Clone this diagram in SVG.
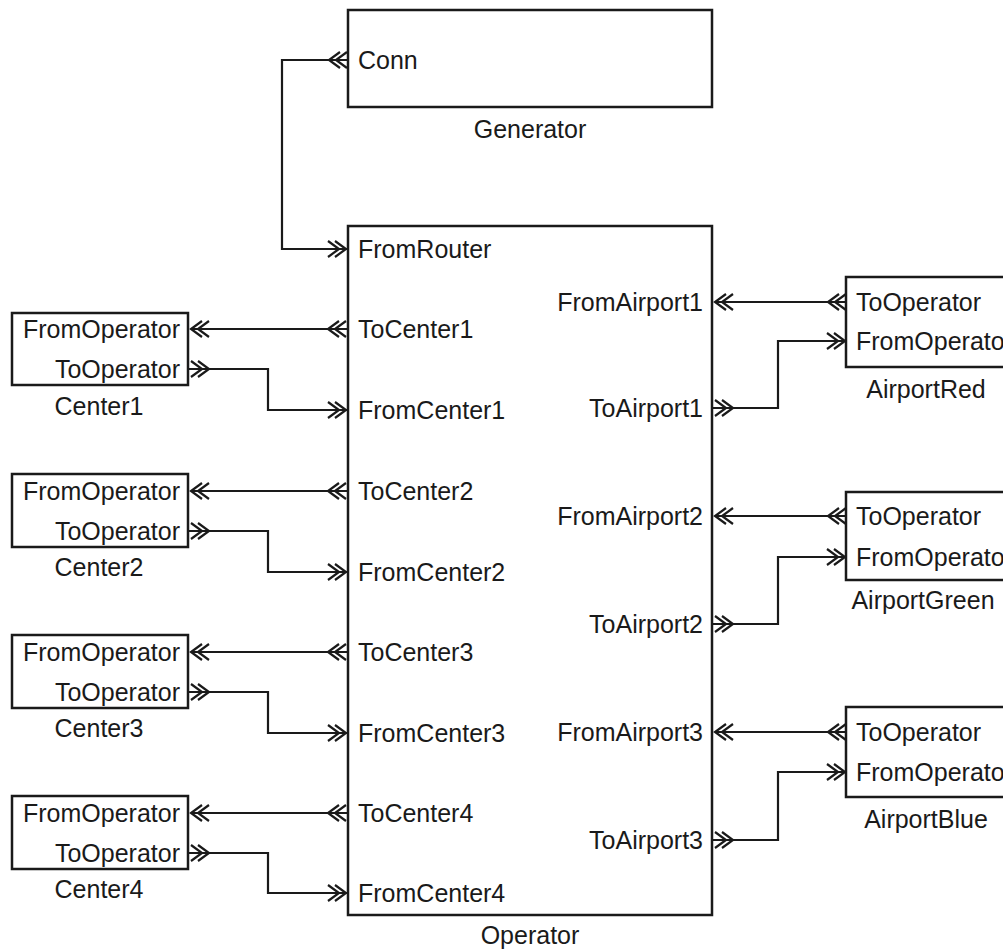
<svg xmlns="http://www.w3.org/2000/svg" width="1003" height="951" viewBox="0 0 1003 951">
  <style>
    .box { fill: #ffffff; stroke: #1a1a1a; stroke-width: 2.5; }
    .wire { fill: none; stroke: #1a1a1a; stroke-width: 2.2; }
    .chev { fill: none; stroke: #1a1a1a; stroke-width: 2.2; }
    text { font-family: "Liberation Sans", Arial, sans-serif; font-size: 25px; fill: #1a1a1a; }
    .end { text-anchor: end; }
    .mid { text-anchor: middle; }
  </style>
  <defs>
    <!-- double chevron pointing left, tip at origin -->
    <path id="dl" class="chev" d="M11,-8 L0,0 L11,8 M18,-8 L7,0 L18,8"/>
    <!-- double chevron pointing right, tip at origin -->
    <path id="dr" class="chev" d="M-11,-8 L0,0 L-11,8 M-18,-8 L-7,0 L-18,8"/>
  </defs>
  <rect width="1003" height="951" fill="#ffffff"/>

  <!-- connectors -->
  <g id="connectors">
    <path class="wire" d="M348,60 H282 V249 H347"/>
    <path class="wire" d="M191,329 H348"/>
    <path class="wire" d="M188,369 H268 V410 H347"/>
    <path class="wire" d="M191,491 H348"/>
    <path class="wire" d="M188,531 H268 V572 H347"/>
    <path class="wire" d="M191,652 H348"/>
    <path class="wire" d="M188,692 H268 V733 H347"/>
    <path class="wire" d="M191,813 H348"/>
    <path class="wire" d="M188,853 H268 V893 H347"/>
    <path class="wire" d="M715,302 H846"/>
    <path class="wire" d="M712,408 H778 V341 H845"/>
    <path class="wire" d="M715,516 H846"/>
    <path class="wire" d="M712,624 H778 V557 H845"/>
    <path class="wire" d="M715,732 H846"/>
    <path class="wire" d="M712,840 H778 V772 H845"/>
  </g>

  <g id="Generator">
    <rect class="box" x="348" y="10" width="364" height="97"/>
    <use href="#dl" x="329" y="60"/>
    <text x="358" y="69">Conn</text>
    <text class="mid" x="530" y="138">Generator</text>
  </g>

  <g id="Operator">
    <rect class="box" x="348" y="226" width="364" height="689"/>
    <use href="#dr" x="346" y="249"/>
    <use href="#dl" x="328" y="329"/>
    <use href="#dr" x="346" y="410"/>
    <use href="#dl" x="328" y="491"/>
    <use href="#dr" x="346" y="572"/>
    <use href="#dl" x="328" y="652"/>
    <use href="#dr" x="346" y="733"/>
    <use href="#dl" x="328" y="813"/>
    <use href="#dr" x="346" y="893"/>
    <use href="#dl" x="715" y="302"/>
    <use href="#dr" x="733" y="408"/>
    <use href="#dl" x="715" y="516"/>
    <use href="#dr" x="733" y="624"/>
    <use href="#dl" x="715" y="732"/>
    <use href="#dr" x="733" y="840"/>
    <text x="358" y="258">FromRouter</text>
    <text x="358" y="338">ToCenter1</text>
    <text x="358" y="419">FromCenter1</text>
    <text x="358" y="500">ToCenter2</text>
    <text x="358" y="581">FromCenter2</text>
    <text x="358" y="661">ToCenter3</text>
    <text x="358" y="742">FromCenter3</text>
    <text x="358" y="822">ToCenter4</text>
    <text x="358" y="902">FromCenter4</text>
    <text class="end" x="703" y="311">FromAirport1</text>
    <text class="end" x="703" y="417">ToAirport1</text>
    <text class="end" x="703" y="525">FromAirport2</text>
    <text class="end" x="703" y="633">ToAirport2</text>
    <text class="end" x="703" y="741">FromAirport3</text>
    <text class="end" x="703" y="849">ToAirport3</text>
    <text class="mid" x="530" y="944">Operator</text>
  </g>

  <g id="Center1">
    <rect class="box" x="12" y="313" width="176" height="72"/>
    <use href="#dl" x="191" y="329"/>
    <use href="#dr" x="209" y="369"/>
    <text class="end" x="180" y="338">FromOperator</text>
    <text class="end" x="180" y="378">ToOperator</text>
    <text class="mid" x="99" y="415">Center1</text>
  </g>

  <g id="Center2">
    <rect class="box" x="12" y="474" width="176" height="73"/>
    <use href="#dl" x="191" y="491"/>
    <use href="#dr" x="209" y="531"/>
    <text class="end" x="180" y="500">FromOperator</text>
    <text class="end" x="180" y="540">ToOperator</text>
    <text class="mid" x="99" y="576">Center2</text>
  </g>

  <g id="Center3">
    <rect class="box" x="12" y="635" width="176" height="73"/>
    <use href="#dl" x="191" y="652"/>
    <use href="#dr" x="209" y="692"/>
    <text class="end" x="180" y="661">FromOperator</text>
    <text class="end" x="180" y="701">ToOperator</text>
    <text class="mid" x="99" y="737">Center3</text>
  </g>

  <g id="Center4">
    <rect class="box" x="12" y="796" width="176" height="73"/>
    <use href="#dl" x="191" y="813"/>
    <use href="#dr" x="209" y="853"/>
    <text class="end" x="180" y="822">FromOperator</text>
    <text class="end" x="180" y="862">ToOperator</text>
    <text class="mid" x="99" y="898">Center4</text>
  </g>

  <g id="AirportRed">
    <rect class="box" x="846" y="277" width="170" height="90"/>
    <use href="#dl" x="828" y="302"/>
    <use href="#dr" x="845" y="341"/>
    <text x="856" y="311">ToOperator</text>
    <text x="856" y="350">FromOperator</text>
    <text class="mid" x="926" y="398">AirportRed</text>
  </g>

  <g id="AirportGreen">
    <rect class="box" x="846" y="492" width="170" height="88"/>
    <use href="#dl" x="828" y="516"/>
    <use href="#dr" x="845" y="557"/>
    <text x="856" y="525">ToOperator</text>
    <text x="856" y="566">FromOperator</text>
    <text class="mid" x="923" y="609">AirportGreen</text>
  </g>

  <g id="AirportBlue">
    <rect class="box" x="846" y="707" width="170" height="90"/>
    <use href="#dl" x="828" y="732"/>
    <use href="#dr" x="845" y="772"/>
    <text x="856" y="741">ToOperator</text>
    <text x="856" y="781">FromOperator</text>
    <text class="mid" x="926" y="828">AirportBlue</text>
  </g>
</svg>
